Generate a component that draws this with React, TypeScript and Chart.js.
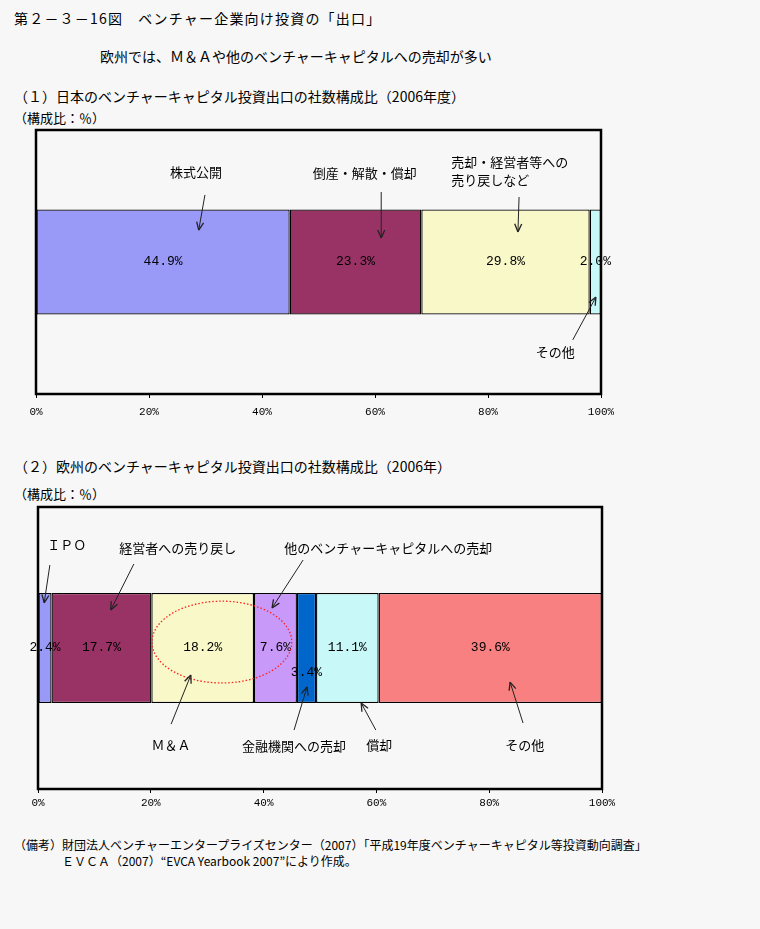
import React, { useEffect, useRef } from "react";
import { Chart, registerables } from "chart.js";
Chart.register(...registerables);

// ---------- data ----------
const jpCategories = ["株式公開", "倒産・解散・償却", "売却・経営者等への売り戻しなど", "その他"];
const jpValues = [44.9, 23.3, 29.8, 2.0];
const euCategories = ["ＩＰＯ", "経営者への売り戻し", "Ｍ＆Ａ", "他のベンチャーキャピタルへの売却", "金融機関への売却", "償却", "その他"];
const euValues = [2.4, 17.7, 18.2, 7.6, 3.4, 11.1, 39.6];
const xTickValues = [0, 20, 40, 60, 80, 100];

// ---------- styles ----------
const jpColors = ["#9999f8", "#993366", "#f8f8c8", "#c8f8f8"];
const euColors = ["#9999f8", "#993366", "#f8f8c8", "#c899f8", "#0066cc", "#c8f8f8", "#f88080"];
const jpLabelDy = [0, 0, 0, 0];
const euLabelDy = [0, 0, 0, 0, 25, 0, 0];
const BG = "#f7f7f7";
const JP_FONT = "'Noto Sans CJK JP', 'Noto Sans CJK SC', sans-serif";
const MONO = "'Liberation Mono', 'DejaVu Sans Mono', monospace";

type Note = {
  lines: string[];
  tx: number; // x in % units
  ty: number; // fraction of chart area height
  align: CanvasTextAlign;
  from: [number, number];
  to: [number, number];
};

const jpNotes: Note[] = [
  { lines: ["株式公開"], tx: 28.3, ty: 0.159, align: "center", from: [29.9, 0.246], to: [28.8, 0.379] },
  { lines: ["倒産・解散・償却"], tx: 58.2, ty: 0.163, align: "center", from: [61.1, 0.235], to: [61.1, 0.409] },
  { lines: ["売却・経営者等への", "売り戻しなど"], tx: 73.5, ty: 0.121, align: "left", from: [85.5, 0.254], to: [85.3, 0.386] },
  { lines: ["その他"], tx: 91.9, ty: 0.841, align: "center", from: [95.0, 0.795], to: [99.1, 0.633] },
];

const euNotes: Note[] = [
  { lines: ["ＩＰＯ"], tx: 5.1, ty: 0.135, align: "center", from: [2.1, 0.206], to: [1.1, 0.34] },
  { lines: ["経営者への売り戻し"], tx: 24.8, ty: 0.145, align: "center", from: [17.0, 0.202], to: [12.9, 0.365] },
  { lines: ["他のベンチャーキャピタルへの売却"], tx: 62.1, ty: 0.145, align: "center", from: [47.0, 0.188], to: [41.5, 0.358] },
  { lines: ["Ｍ＆Ａ"], tx: 23.6, ty: 0.844, align: "center", from: [23.6, 0.77], to: [27.1, 0.596] },
  { lines: ["金融機関への売却"], tx: 45.4, ty: 0.848, align: "center", from: [45.4, 0.791], to: [47.7, 0.638] },
  { lines: ["償却"], tx: 60.5, ty: 0.844, align: "center", from: [59.9, 0.791], to: [57.3, 0.695] },
  { lines: ["その他"], tx: 86.3, ty: 0.844, align: "center", from: [86.0, 0.766], to: [83.7, 0.621] },
];

const euEllipse = { cx: 32.6, cy: 0.479, rx: 12.4, ry: 0.145 };

type PanelProps = {
  categories: string[];
  values: number[];
  colors: string[];
  labelDy: number[];
  notes: Note[];
  ellipse?: { cx: number; cy: number; rx: number; ry: number };
  top: number;
  height: number;
  padLeft: number;
  padRight: number;
  padTop: number;
  axisH: number;
  tickPad: number;
  barPct: number;
};

function BarPanel(p: PanelProps) {
  const ref = useRef<HTMLCanvasElement | null>(null);
  useEffect(() => {
    if (!ref.current) return;
    const overlay = {
      id: "overlay",
      afterDatasetsDraw(chart: any) {
        const ctx = chart.ctx as CanvasRenderingContext2D;
        const a = chart.chartArea;
        const xs = chart.scales.x;
        const X = (v: number) => xs.getPixelForValue(v);
        const Y = (f: number) => a.top + f * (a.bottom - a.top);
        ctx.save();
        // data labels
        ctx.font = `13px ${MONO}`;
        ctx.fillStyle = "#000";
        ctx.textAlign = "center";
        ctx.textBaseline = "middle";
        chart.data.datasets.forEach((ds: any, i: number) => {
          const el = chart.getDatasetMeta(i).data[0] as any;
          const cx = (el.x + el.base) / 2;
          ctx.fillText(ds.data[0].toFixed(1) + "%", cx, el.y + p.labelDy[i]);
        });
        // ellipse
        if (p.ellipse) {
          const e = p.ellipse;
          ctx.beginPath();
          ctx.setLineDash([1.5, 2]);
          ctx.strokeStyle = "#ff2020";
          ctx.lineWidth = 1.3;
          const cx = X(e.cx);
          const rx = X(e.cx + e.rx) - cx;
          ctx.ellipse(cx, Y(e.cy), rx, e.ry * (a.bottom - a.top), 0, 0, Math.PI * 2);
          ctx.stroke();
          ctx.setLineDash([]);
        }
        // annotations
        ctx.font = `13px ${JP_FONT}`;
        ctx.fillStyle = "#000";
        p.notes.forEach((n) => {
          ctx.textAlign = n.align;
          n.lines.forEach((ln, k) => ctx.fillText(ln, X(n.tx), Y(n.ty) + k * 18));
          const x1 = X(n.from[0]), y1 = Y(n.from[1]), x2 = X(n.to[0]), y2 = Y(n.to[1]);
          ctx.beginPath();
          ctx.strokeStyle = "#222";
          ctx.lineWidth = 1;
          ctx.moveTo(x1, y1);
          ctx.lineTo(x2, y2);
          ctx.stroke();
          const ang = Math.atan2(y2 - y1, x2 - x1);
          const L = 8, W = 3.5;
          ctx.beginPath();
          ctx.moveTo(x2, y2);
          ctx.lineTo(x2 - L * Math.cos(ang) + W * Math.sin(ang), y2 - L * Math.sin(ang) - W * Math.cos(ang));
          ctx.moveTo(x2, y2);
          ctx.lineTo(x2 - L * Math.cos(ang) - W * Math.sin(ang), y2 - L * Math.sin(ang) + W * Math.cos(ang));
          ctx.lineWidth = 1.3;
          ctx.stroke();
        });
        // frame
        ctx.strokeStyle = "#000";
        ctx.lineWidth = 2.5;
        ctx.strokeRect(a.left, a.top, a.right - a.left, a.bottom - a.top);
        ctx.restore();
      },
    };
    const chart = new Chart(ref.current, {
      type: "bar",
      data: {
        labels: [""],
        datasets: p.categories.map((c, i) => ({
          label: c,
          data: [p.values[i]],
          backgroundColor: p.colors[i],
          borderColor: "#000",
          borderWidth: 1.3,
          borderSkipped: false,
          barPercentage: p.barPct,
          categoryPercentage: 1,
        })),
      },
      options: {
        indexAxis: "y",
        animation: false,
        responsive: false,
        maintainAspectRatio: false,
        layout: { padding: { left: p.padLeft, right: p.padRight, top: p.padTop, bottom: 0 } },
        plugins: { legend: { display: false }, tooltip: { enabled: false } },
        scales: {
          x: {
            stacked: true,
            min: 0,
            max: 100,
            afterBuildTicks: (s: any) => {
              s.ticks = xTickValues.map((v) => ({ value: v }));
            },
            afterFit: (s: any) => {
              s.height = p.axisH;
            },
            ticks: {
              callback: (v: any) => v + "%",
              font: { family: MONO, size: 11 },
              color: "#000",
              padding: p.tickPad,
              maxRotation: 0,
              autoSkip: false,
            },
            grid: { drawOnChartArea: false, drawTicks: true, tickLength: 4, color: "#000" },
            border: { display: false },
          },
          y: { stacked: true, display: false },
        },
      } as any,
      plugins: [overlay],
    });
    return () => chart.destroy();
  }, []);
  return (
    <canvas
      ref={ref}
      width={760}
      height={p.height}
      style={{ position: "absolute", left: 0, top: p.top, width: 760, height: p.height }}
    />
  );
}

const txt = (top: number, left: number, size: number, s: string, ls = 0) => (
  <div
    style={{
      position: "absolute",
      top,
      left,
      fontSize: size,
      lineHeight: 1,
      fontFamily: JP_FONT,
      letterSpacing: ls,
      whiteSpace: "nowrap",
      color: "#000",
    }}
  >
    {s}
  </div>
);

export default function App() {
  useEffect(() => {
    document.body.style.margin = "0";
    document.body.style.background = BG;
  }, []);
  return (
    <div style={{ position: "relative", width: 760, height: 929, background: BG, overflow: "hidden" }}>
      {txt(11, 14, 14, "第２－３－16図　ベンチャー企業向け投資の「出口」", 1.2)}
      {txt(49, 100, 14, "欧州では、Ｍ＆Ａや他のベンチャーキャピタルへの売却が多い")}
      {txt(89, 14, 14, "（１）日本のベンチャーキャピタル投資出口の社数構成比（2006年度）")}
      {txt(111, 14, 13, "（構成比：％）")}
      <BarPanel
        categories={jpCategories}
        values={jpValues}
        colors={jpColors}
        labelDy={jpLabelDy}
        notes={jpNotes}
        top={120}
        height={310}
        padLeft={36}
        padRight={159}
        padTop={10}
        axisH={36}
        tickPad={7}
        barPct={0.398}
      />
      {txt(459, 14, 14, "（２）欧州のベンチャーキャピタル投資出口の社数構成比（2006年）")}
      {txt(487, 14, 13, "（構成比：％）")}
      <BarPanel
        categories={euCategories}
        values={euValues}
        colors={euColors}
        labelDy={euLabelDy}
        notes={euNotes}
        ellipse={euEllipse}
        top={497}
        height={320}
        padLeft={38}
        padRight={158}
        padTop={10}
        axisH={28}
        tickPad={3}
        barPct={0.39}
      />
      {txt(839, 14, 12, "（備考）財団法人ベンチャーエンタープライズセンター（2007）「平成19年度ベンチャーキャピタル等投資動向調査」")}
      {txt(855, 62, 12, "ＥＶＣＡ（2007）“EVCA Yearbook 2007”により作成。")}
    </div>
  );
}
